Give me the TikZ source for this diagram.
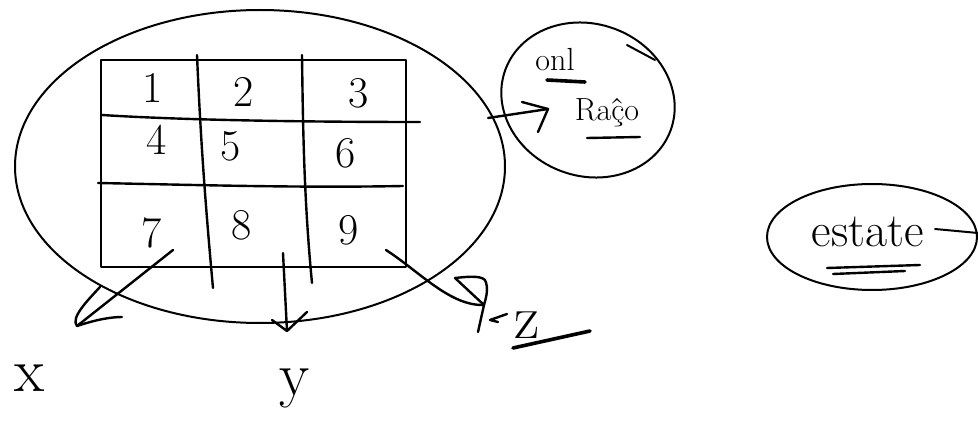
\documentclass[tikz,border=0pt]{standalone}
\usepackage{fontspec}
\begin{document}
\begin{tikzpicture}[x=1pt,y=-1pt,line cap=round,line join=round,
  pen/.style={line width=2.4pt},
  thinpen/.style={line width=2pt},
  thickpen/.style={line width=3.6pt},
  num/.style={font=\fontsize{44}{46}\selectfont,inner sep=0pt},
  lbl/.style={font=\fontsize{32}{34}\selectfont,inner sep=0pt},
  axis/.style={font=\fontsize{62}{64}\selectfont,inner sep=0pt}]
\useasboundingbox (0,0) rectangle (978,425);

% big ellipse
\draw[thinpen] (260,166.5) ellipse [x radius=245, y radius=156.5];

% grid
\draw[pen] (101,60) rectangle (406,267);
\draw[pen] (197,55) .. controls (200,125) and (204,190) .. (213,288);
\draw[pen] (302,55) .. controls (303,130) and (304,200) .. (312,283);
\draw[pen] (102,115) .. controls (180,120) and (300,122) .. (420,122);
\draw[pen] (98,183) .. controls (200,185) and (300,188) .. (403,186);

% numbers
\node[num] (n1) at (153,88) {1};
\node[num] (n2) at (244,92) {2};
\node[num] (n3) at (359,93) {3};
\node[num] (n4) at (157,140) {4};
\node[num] (n5) at (231,146) {5};
\node[num] (n6) at (346,153) {6};
\node[num] (n7) at (152,233) {7};
\node[num] (n8) at (242,225) {8};
\node[num] (n9) at (349,230) {9};

% axis arrows
\coordinate (a1s) at (173,250); \coordinate (a1e) at (77,326);
\draw[pen] (a1s) -- (a1e);
\draw[pen] (100,287) .. controls (88,300) and (70,318) .. (a1e) .. controls (95,320) and (110,317) .. (122,317);

\coordinate (a2s) at (283,253); \coordinate (a2e) at (287,331);
\draw[pen] (a2s) -- (a2e);
\draw[pen] (272,320) -- (a2e) -- (307,312);

\coordinate (a3s) at (386,250); \coordinate (a3e) at (484,305);
\draw[pen] (a3s) .. controls (420,272) and (450,306) .. (a3e);
\draw[pen] (a3e) -- (455,278) .. controls (465,277) and (480,275) .. (485,280) .. controls (489,288) and (486,298) .. (a3e) -- (478,332);
\draw[pen] (507,314) -- (490,320) -- (498,322);

% axis labels
\node[axis] (lx) at (30,378) {x};
\node[axis] (ly) at (295,388) {y};
\node[axis] (lz) at (527,325) {z};
\draw[thickpen] (513,348) -- (590,331);

% action blob
\draw[thinpen,rotate around={-20:(588,100)}] (588,100) ellipse [x radius=88, y radius=76];
\draw[thinpen] (627,45) -- (655,60);
\node[lbl] (top) at (555,60) {onl};
\draw[thickpen] (547,80) -- (585,82);
\node[lbl] (act) at (607,113) {Ra\^{ç}o};
\draw[pen] (587,138) -- (640,137);
\coordinate (b1s) at (488,118); \coordinate (b1e) at (548,109);
\draw[pen] (b1s) -- (b1e);
\draw[pen] (522,102) -- (b1e) -- (538,132);

% state ellipse
\draw[thinpen] (872,237) ellipse [x radius=105, y radius=53];
\node[font=\fontsize{48}{50}\selectfont,inner sep=0pt] (st) at (868,232) {estate};
\draw[thinpen] (935,229) -- (978,233);
\draw[pen] (827,268) -- (920,265);
\draw[pen] (833,274) -- (905,271);
\end{tikzpicture}
\end{document}
